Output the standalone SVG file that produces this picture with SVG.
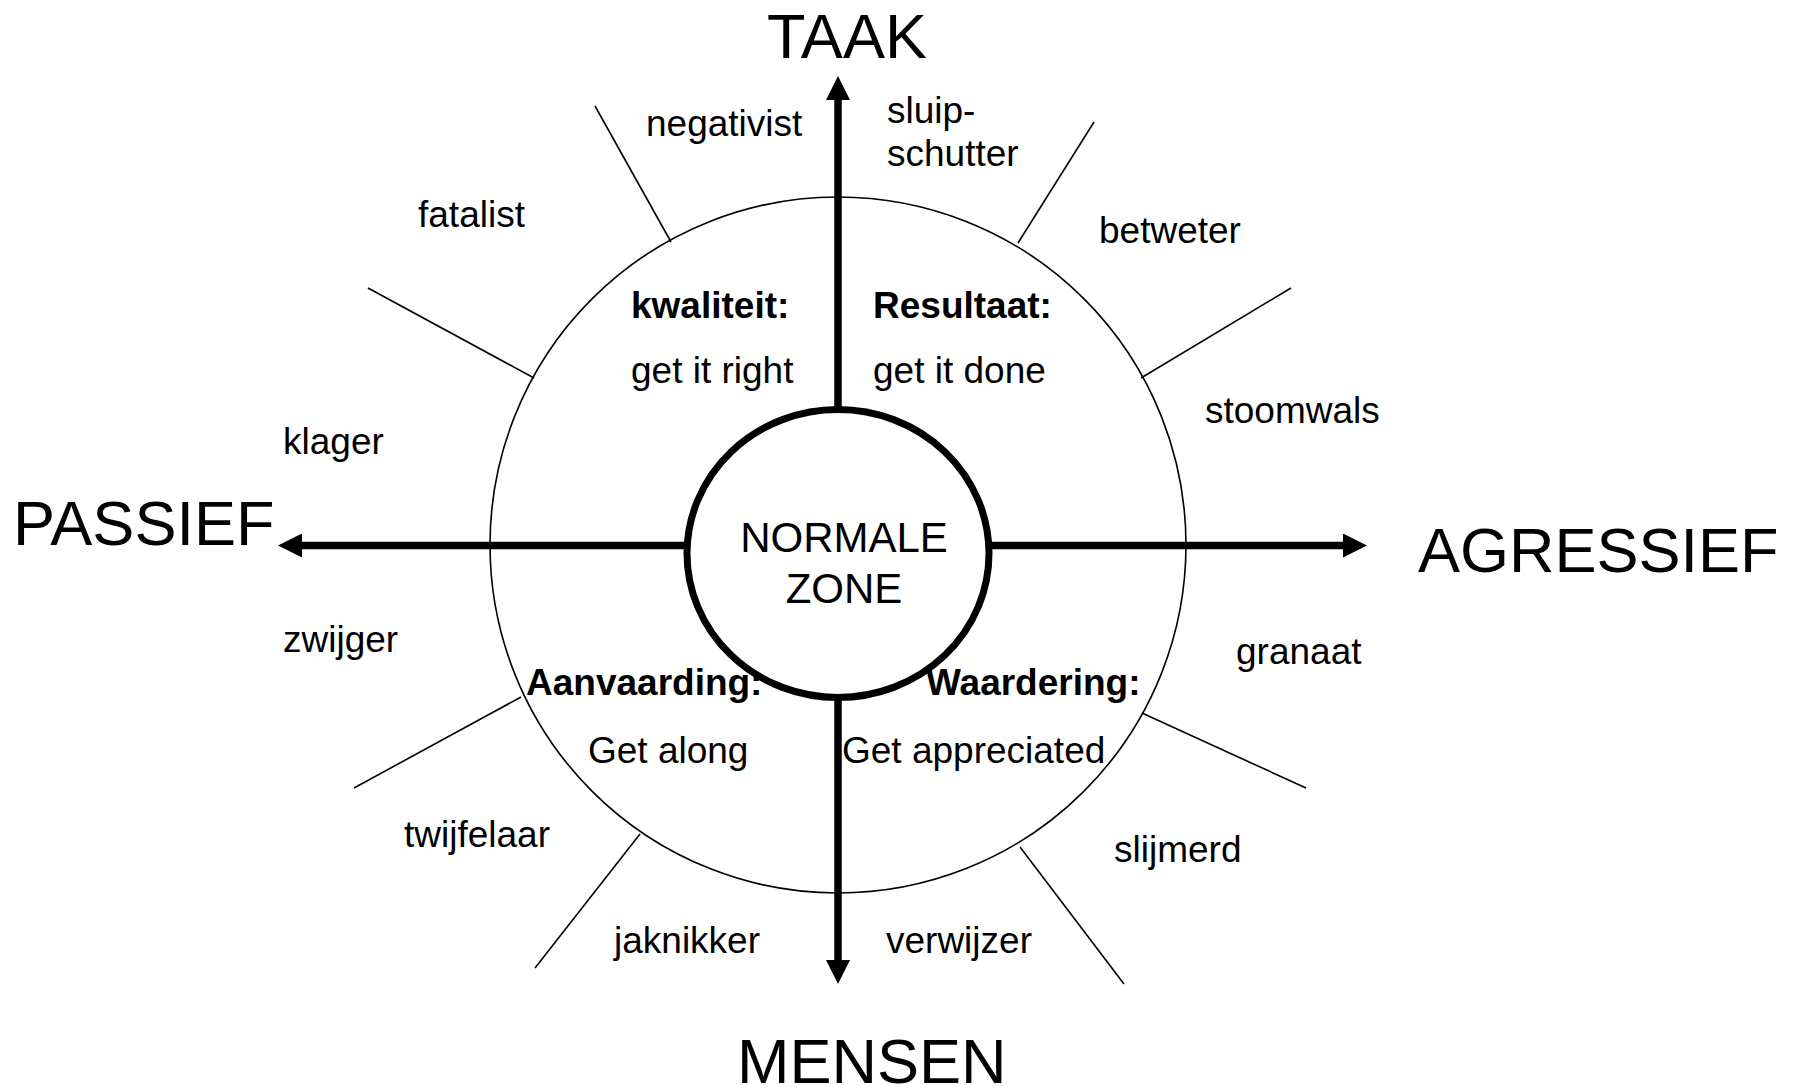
<svg xmlns="http://www.w3.org/2000/svg" width="1801" height="1087" viewBox="0 0 1801 1087">
<style>
text { font-family: "Liberation Sans", Arial, sans-serif; fill: #000; }
.big { font-size: 63px; }
.mid { font-size: 42px; }
.lbl { font-size: 37px; }
.bold { font-size: 37px; font-weight: bold; }
.axis { stroke: #000; stroke-width: 7.5; fill: none; }
.ray { stroke: #000; stroke-width: 1.6; fill: none; }
</style>
<defs>
<marker id="arrow" viewBox="0 0 24 24" refX="0" refY="12" markerWidth="24" markerHeight="24" markerUnits="userSpaceOnUse" orient="auto">
<path d="M0,0 L24,12 L0,24 Z" fill="#000"/>
</marker>
</defs>
<rect width="1801" height="1087" fill="#fff"/>

<g id="outer-circle">
<circle cx="838" cy="545" r="348" fill="none" stroke="#000" stroke-width="1.6"/>
</g>

<g id="connectors">
<line class="axis" x1="838" y1="410" x2="838" y2="100" marker-end="url(#arrow)"/>
<line class="axis" x1="838" y1="697" x2="838" y2="960" marker-end="url(#arrow)"/>
<line class="axis" x1="688" y1="545.5" x2="302" y2="545.5" marker-end="url(#arrow)"/>
<line class="axis" x1="988" y1="545.5" x2="1343" y2="545.5" marker-end="url(#arrow)"/>
<line class="ray" x1="595" y1="106" x2="671" y2="242"/>
<line class="ray" x1="1094" y1="122" x2="1018" y2="243"/>
<line class="ray" x1="368" y1="288" x2="534" y2="378"/>
<line class="ray" x1="1291" y1="288" x2="1141" y2="378"/>
<line class="ray" x1="521" y1="697" x2="354" y2="788"/>
<line class="ray" x1="1142" y1="713" x2="1306" y2="788"/>
<line class="ray" x1="640" y1="834" x2="535" y2="968"/>
<line class="ray" x1="1020" y1="847" x2="1124" y2="984"/>
</g>

<g id="normale-zone">
<ellipse cx="838" cy="553.5" rx="151" ry="144" fill="#fff" stroke="#000" stroke-width="7"/>
<text class="mid" x="844" y="552" text-anchor="middle">NORMALE</text>
<text class="mid" x="844" y="603" text-anchor="middle">ZONE</text>
</g>

<g id="taak"><text class="big" x="847" y="58" text-anchor="middle">TAAK</text></g>
<g id="mensen"><text class="big" x="737" y="1083">MENSEN</text></g>
<g id="passief"><text class="big" x="13" y="545">PASSIEF</text></g>
<g id="agressief"><text class="big" x="1418" y="572">AGRESSIEF</text></g>

<g id="kwaliteit">
<text class="bold" x="631" y="318">kwaliteit:</text>
<text class="lbl" x="631" y="383">get it right</text>
</g>
<g id="resultaat">
<text class="bold" x="873" y="318">Resultaat:</text>
<text class="lbl" x="873" y="383">get it done</text>
</g>
<g id="aanvaarding">
<text class="bold" x="526" y="695">Aanvaarding:</text>
<text class="lbl" x="588" y="763">Get along</text>
</g>
<g id="waardering">
<text class="bold" x="926" y="695">Waardering:</text>
<text class="lbl" x="842" y="763">Get appreciated</text>
</g>

<g id="negativist"><text class="lbl" x="646" y="136">negativist</text></g>
<g id="sluipschutter">
<text class="lbl" x="887" y="123">sluip-</text>
<text class="lbl" x="887" y="166">schutter</text>
</g>
<g id="fatalist"><text class="lbl" x="418" y="227">fatalist</text></g>
<g id="betweter"><text class="lbl" x="1099" y="243">betweter</text></g>
<g id="klager"><text class="lbl" x="283" y="454">klager</text></g>
<g id="stoomwals"><text class="lbl" x="1205" y="423">stoomwals</text></g>
<g id="zwijger"><text class="lbl" x="283" y="652">zwijger</text></g>
<g id="granaat"><text class="lbl" x="1236" y="664">granaat</text></g>
<g id="twijfelaar"><text class="lbl" x="404" y="847">twijfelaar</text></g>
<g id="slijmerd"><text class="lbl" x="1114" y="862">slijmerd</text></g>
<g id="jaknikker"><text class="lbl" x="614" y="953">jaknikker</text></g>
<g id="verwijzer"><text class="lbl" x="886" y="953">verwijzer</text></g>
</svg>
